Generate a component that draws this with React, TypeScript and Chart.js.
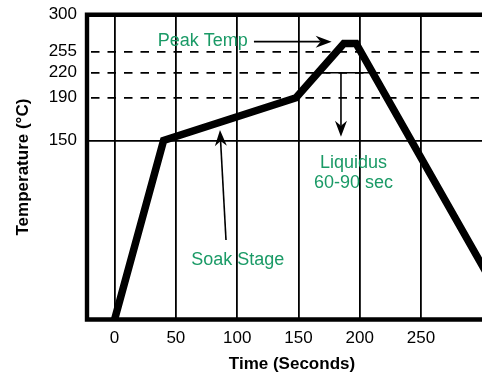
import React, { useEffect, useRef } from 'react';
import { Chart, registerables, LinearScale } from 'chart.js';

Chart.register(...registerables);

// ---------------- data ----------------
const TIME_S = [0, 40, 148, 187, 197, 325];
const TEMP_C = [25, 150, 190, 265, 265, 25];
const X_TICKS = [0, 50, 100, 150, 200, 250];
const Y_TICKS = [150, 190, 220, 255, 300];
const DASHED_TEMPS = [190, 220, 255];
const X_TITLE = 'Time (Seconds)';
const Y_TITLE = 'Temperature (°C)';
const PEAK_LABEL = 'Peak Temp';
const LIQUIDUS_LABEL = ['Liquidus', '60-90 sec'];
const SOAK_LABEL = 'Soak Stage';

// schematic (non-linear) temperature axis: knot values and their share of the axis height
const Y_KNOT_VALUES = [25, 150, 190, 220, 255, 300];
const Y_KNOT_FRACS = [0, 0.5873, 0.7277, 0.8097, 0.8786, 1];

// annotation anchors, in data units (time, temperature)
const PEAK_TEXT_AT = { x: 72, y: 262 };
const PEAK_ARROW = { x1: 113.7, y1: 267.2, x2: 177.1, y2: 267.2 };
const LIQ_TEXT_AT = [{ x: 194.9, y: 130.6 }, { x: 194.9, y: 116.6 }];
const LIQ_BRACKET = { x1: 172.5, x2: 207.8, y: 220 };
const LIQ_ARROW = { x: 184.7, y1: 220, y2: 153.6 };
const SOAK_TEXT_AT = { x: 100.5, y: 63.1 };
const SOAK_ARROW = { x1: 90.9, y1: 80.5, x2: 86.0, y2: 159.8 };

const GREEN = '#1a9a66';
const FONT = "'Liberation Sans', Arial, Helvetica, sans-serif";

function interp(xs: number[], ys: number[], v: number): number {
  const n = xs.length;
  let i = 0;
  if (v <= xs[0]) i = 0;
  else if (v >= xs[n - 1]) i = n - 2;
  else {
    while (i < n - 2 && v > xs[i + 1]) i++;
  }
  const t = (v - xs[i]) / (xs[i + 1] - xs[i]);
  return ys[i] + t * (ys[i + 1] - ys[i]);
}

class SchematicScale extends LinearScale {
  static id = 'schematic';
  static defaults = {};
  getPixelForValue(value: any) {
    if (value === null || value === undefined || isNaN(value)) return NaN;
    return this.getPixelForDecimal(interp(Y_KNOT_VALUES, Y_KNOT_FRACS, value));
  }
  getValueForPixel(pixel: number) {
    return interp(Y_KNOT_FRACS, Y_KNOT_VALUES, this.getDecimalForPixel(pixel));
  }
}
Chart.register(SchematicScale as any);

function arrow(ctx: CanvasRenderingContext2D, x1: number, y1: number, x2: number, y2: number) {
  const dx = x2 - x1, dy = y2 - y1;
  const len = Math.hypot(dx, dy);
  const ux = dx / len, uy = dy / len;
  const px = -uy, py = ux;
  const L = 16, W = 6, N = 11;
  ctx.beginPath();
  ctx.moveTo(x1, y1);
  ctx.lineTo(x2 - ux * N, y2 - uy * N);
  ctx.stroke();
  ctx.beginPath();
  ctx.moveTo(x2, y2);
  ctx.lineTo(x2 - ux * L + px * W, y2 - uy * L + py * W);
  ctx.lineTo(x2 - ux * N, y2 - uy * N);
  ctx.lineTo(x2 - ux * L - px * W, y2 - uy * L - py * W);
  ctx.closePath();
  ctx.fill();
}

const framePlugin = {
  id: 'frame',
  beforeDatasetsDraw(chart: any) {
    const { ctx, chartArea } = chart;
    const { left, top, right, bottom } = chartArea;
    ctx.save();
    ctx.strokeStyle = '#000';
    ctx.lineWidth = 4.4;
    ctx.lineJoin = 'miter';
    ctx.beginPath();
    ctx.moveTo(right + 10, top);
    ctx.lineTo(left, top);
    ctx.lineTo(left, bottom);
    ctx.lineTo(right + 10, bottom);
    ctx.stroke();
    ctx.restore();
  },
};

const annotationPlugin = {
  id: 'reflowNotes',
  afterDatasetsDraw(chart: any) {
    const { ctx } = chart;
    const xs = chart.scales.x;
    const ys = chart.scales.y;
    const X = (v: number) => xs.getPixelForValue(v);
    const Y = (v: number) => ys.getPixelForValue(v);
    ctx.save();
    // texts
    ctx.fillStyle = GREEN;
    ctx.font = `18px ${FONT}`;
    ctx.textAlign = 'center';
    ctx.textBaseline = 'alphabetic';
    ctx.fillText(PEAK_LABEL, X(PEAK_TEXT_AT.x), Y(PEAK_TEXT_AT.y));
    LIQUIDUS_LABEL.forEach((t, i) => ctx.fillText(t, X(LIQ_TEXT_AT[i].x), Y(LIQ_TEXT_AT[i].y)));
    ctx.fillText(SOAK_LABEL, X(SOAK_TEXT_AT.x), Y(SOAK_TEXT_AT.y));
    // arrows
    ctx.strokeStyle = '#000';
    ctx.fillStyle = '#000';
    ctx.lineWidth = 1.6;
    arrow(ctx, X(PEAK_ARROW.x1), Y(PEAK_ARROW.y1), X(PEAK_ARROW.x2), Y(PEAK_ARROW.y2));
    ctx.beginPath();
    ctx.moveTo(X(LIQ_BRACKET.x1), Y(LIQ_BRACKET.y));
    ctx.lineTo(X(LIQ_BRACKET.x2), Y(LIQ_BRACKET.y));
    ctx.stroke();
    arrow(ctx, X(LIQ_ARROW.x), Y(LIQ_ARROW.y1), X(LIQ_ARROW.x), Y(LIQ_ARROW.y2));
    arrow(ctx, X(SOAK_ARROW.x1), Y(SOAK_ARROW.y1), X(SOAK_ARROW.x2), Y(SOAK_ARROW.y2));
    ctx.restore();
  },
};

export default function App() {
  const ref = useRef<HTMLCanvasElement | null>(null);

  useEffect(() => {
    if (!ref.current) return;
    const chart = new Chart(ref.current, {
      type: 'line',
      data: {
        datasets: [
          {
            label: 'Reflow profile',
            data: TIME_S.map((t, i) => ({ x: t, y: TEMP_C[i] })),
            borderColor: '#000',
            backgroundColor: '#000',
            borderWidth: 7.5,
            pointRadius: 0,
            tension: 0,
            borderJoinStyle: 'miter',
            clip: 0,
          } as any,
        ],
      },
      options: {
        responsive: false,
        animation: false,
        events: [],
        layout: { padding: { top: 14.7, left: 0, right: 0, bottom: 0 } },
        plugins: {
          legend: { display: false },
          tooltip: { enabled: false },
        },
        scales: {
          x: {
            type: 'linear',
            min: -22.5,
            max: 312,
            bounds: 'data',
            afterBuildTicks: (scale: any) => {
              scale.ticks = X_TICKS.map((v) => ({ value: v }));
            },
            afterFit: (scale: any) => {
              scale.height = 57.5;
              scale.paddingLeft = 0;
              scale.paddingRight = 0;
            },
            grid: { color: '#000', lineWidth: 1.8, drawTicks: false },
            border: { display: false },
            ticks: {
              color: '#000',
              font: { family: FONT, size: 17 },
              padding: 9,
              maxRotation: 0,
              autoSkip: false,
              callback: (v: any) => String(v),
            },
            title: {
              display: true,
              text: X_TITLE,
              color: '#000',
              font: { family: FONT, size: 17, weight: 'bold' },
              padding: { top: 4, bottom: 2 },
            },
          },
          y: {
            type: 'schematic' as any,
            min: 25,
            max: 300,
            bounds: 'data',
            afterBuildTicks: (scale: any) => {
              scale.ticks = Y_TICKS.map((v) => ({ value: v }));
            },
            afterFit: (scale: any) => {
              scale.width = 87;
              scale.paddingTop = 0;
              scale.paddingBottom = 0;
            },
            grid: { color: '#000', lineWidth: 1.8, drawTicks: false },
            border: {
              display: false,
              dash: (ctx: any) =>
                ctx.tick && DASHED_TEMPS.includes(ctx.tick.value) ? [8.5, 8] : [],
              dashOffset: 12.5,
            },
            ticks: {
              color: '#000',
              font: { family: FONT, size: 17 },
              padding: 10,
              autoSkip: false,
              callback: (v: any) => String(v),
            },
            title: {
              display: true,
              text: Y_TITLE,
              color: '#000',
              font: { family: FONT, size: 17, weight: 'bold' },
              padding: { top: 13, bottom: 0 },
            },
          } as any,
        },
      },
      plugins: [framePlugin, annotationPlugin],
    });
    return () => chart.destroy();
  }, []);

  return (
    <div
      style={{
        position: 'fixed',
        left: 0,
        top: 0,
        width: 482,
        height: 377,
        overflow: 'hidden',
        background: '#fff',
      }}
    >
      <canvas ref={ref} width={497} height={377} style={{ display: 'block' }} />
    </div>
  );
}
